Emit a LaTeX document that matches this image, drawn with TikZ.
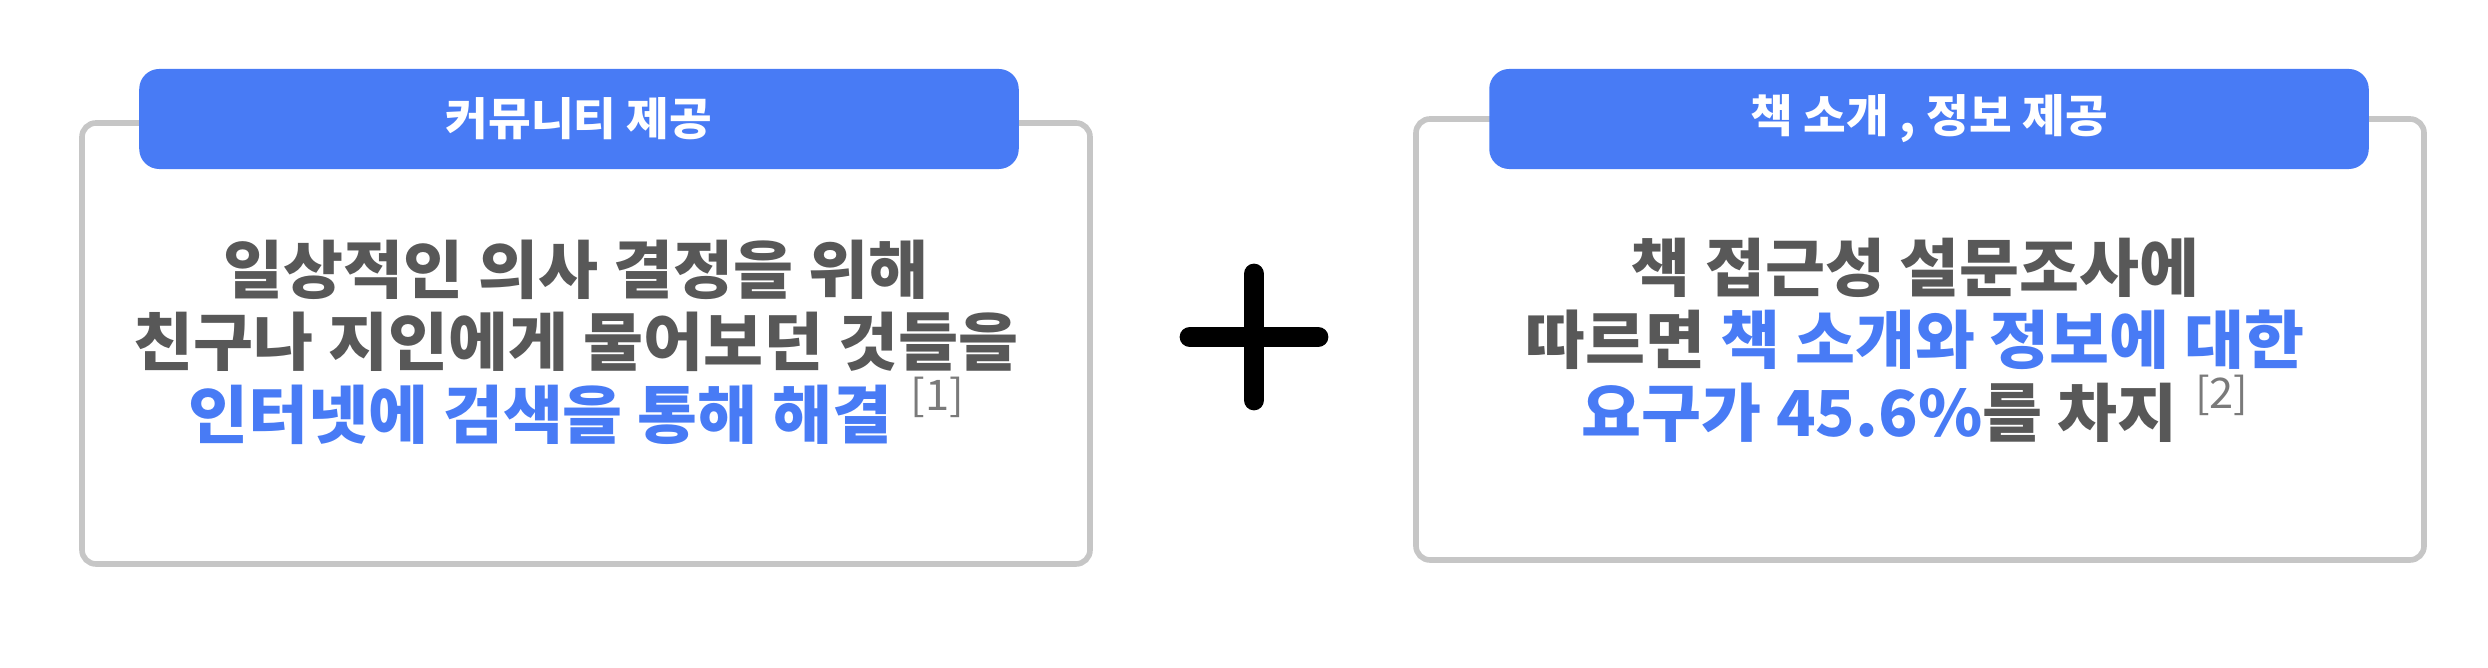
\documentclass[tikz,border=0pt]{standalone}
\usepackage{fontspec}
\usepackage{xcolor}
\usetikzlibrary{positioning}
\newfontfamily\kr[FakeStretch=1.03]{Noto Sans CJK KR}
\definecolor{tagblue}{RGB}{72,123,245}
\definecolor{textgray}{RGB}{88,88,88}
\definecolor{framegray}{RGB}{198,198,198}
\definecolor{refgray}{RGB}{122,122,122}
\newcommand{\refmark}[1]{\;\raisebox{0.8ex}{\color{refgray}\fontsize{12}{12}\selectfont\mdseries [#1]}}

\begin{document}
\begin{tikzpicture}[x=0.01cm, y=-0.01cm,
    panel/.style={draw=framegray, line width=1.6pt, rounded corners=0.14cm, fill=white},
    tag/.style={fill=tagblue, rounded corners=0.2cm, minimum width=8.79cm, minimum height=1cm, inner sep=0pt,
        text=white, font=\kr\bfseries\fontsize{12.8}{14}\selectfont},
    body/.style={align=center, text=textgray, font=\kr\bfseries\fontsize{18}{20.6}\selectfont},
    hl/.style={text=tagblue}]
    \useasboundingbox (0,0) rectangle (2488,668);

    % left panel
    \draw[panel] (82,123) rectangle (1090,564);
    \node[tag] (tagleft) at (579,119) {커뮤니티 제공};
    \node[body] (textleft) at (576,342) {일상적인 의사 결정을 위해\\
        친구나 지인에게 물어보던 것들을\\
        \textcolor{tagblue}{인터넷에 검색을 통해 해결}\refmark{1}};

    % plus sign
    \coordinate (plus) at (1254,337);
    \draw[line width=5.9pt, line cap=round] (1190,337) -- (1318,337) (1254,274) -- (1254,400);

    % right panel
    \draw[panel] (1416,119) rectangle (2424,560);
    \node[tag] (tagright) at (1929,119) {책 소개 , 정보 제공};
    \node[body] (textright) at (1915,340) {책 접근성 설문조사에\\
        따르면 \textcolor{tagblue}{책 소개와 정보에 대한}\\
        \textcolor{tagblue}{요구가 45.6\%}를 차지\refmark{2}};
\end{tikzpicture}
\end{document}
